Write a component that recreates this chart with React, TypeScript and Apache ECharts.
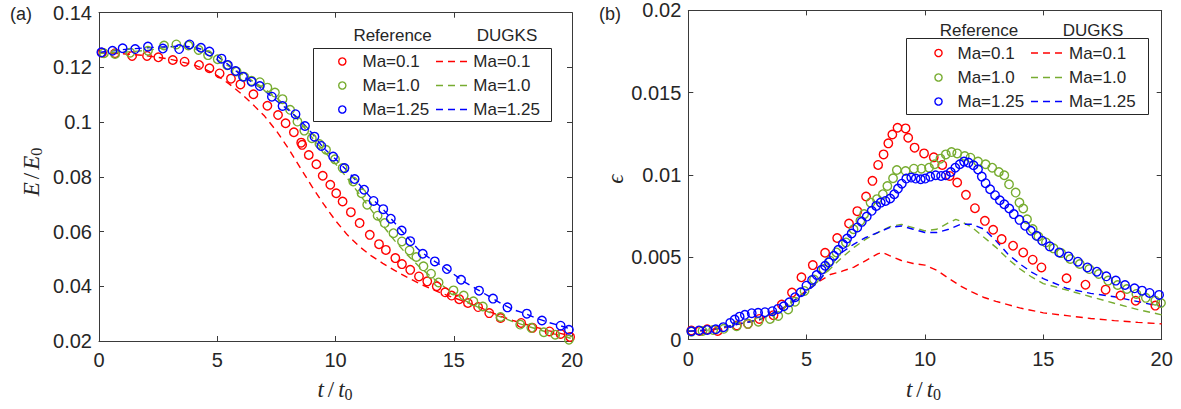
import React, { useEffect, useRef } from "react";
import * as echarts from "echarts";

// ---------- (a) kinetic energy E/E0 ----------
const aRefMa01T = [0.13, 0.68, 1.40, 2.03, 2.51, 3.12, 3.62, 4.23, 4.67, 5.10, 5.58, 5.98, 6.53, 7.12, 7.57, 7.89, 8.24, 8.55, 8.59, 8.87, 9.19, 9.46, 9.78, 10.03, 10.30, 10.65, 11.02, 11.45, 11.84, 12.13, 12.53, 12.81, 13.16, 13.53, 13.88, 14.28, 14.64, 14.91, 15.23, 15.60, 16.03, 16.50, 16.98, 17.85, 18.33, 19.05, 19.52, 19.92];
const aRefMa01E = [0.1254, 0.1252, 0.1242, 0.1242, 0.1237, 0.1227, 0.1221, 0.1209, 0.1197, 0.1178, 0.1159, 0.1138, 0.1102, 0.1060, 0.1026, 0.0996, 0.0963, 0.0925, 0.0917, 0.0880, 0.0846, 0.0804, 0.0771, 0.0740, 0.0710, 0.0671, 0.0631, 0.0588, 0.0554, 0.0533, 0.0503, 0.0481, 0.0460, 0.0436, 0.0418, 0.0400, 0.0378, 0.0366, 0.0353, 0.0339, 0.0324, 0.0302, 0.0284, 0.0266, 0.0248, 0.0235, 0.0226, 0.0215];

const aRefMa10T = [0.21, 0.68, 1.32, 2.07, 2.75, 3.27, 3.78, 4.21, 4.61, 5.02, 5.42, 5.82, 6.14, 6.45, 6.80, 7.12, 7.44, 7.76, 8.08, 8.39, 8.68, 9.00, 9.32, 9.60, 9.98, 10.30, 10.75, 11.10, 11.34, 11.78, 12.08, 12.45, 12.81, 13.13, 13.42, 13.72, 14.04, 14.36, 14.99, 15.42, 15.83, 16.23, 16.98, 17.81, 18.28, 18.81, 19.29, 19.87];
const aRefMa10E = [0.1252, 0.1249, 0.1254, 0.1261, 0.1280, 0.1284, 0.1280, 0.1264, 0.1245, 0.1230, 0.1208, 0.1185, 0.1166, 0.1151, 0.1146, 0.1126, 0.1108, 0.1084, 0.1045, 0.1002, 0.0969, 0.0941, 0.0920, 0.0899, 0.0864, 0.0832, 0.0783, 0.0740, 0.0698, 0.0658, 0.0631, 0.0594, 0.0564, 0.0531, 0.0507, 0.0473, 0.0446, 0.0414, 0.0385, 0.0366, 0.0345, 0.0326, 0.0288, 0.0260, 0.0248, 0.0232, 0.0223, 0.0205];

const aRefMa125T = [0.10, 0.57, 1.00, 1.53, 2.07, 2.70, 3.39, 3.83, 4.31, 4.67, 5.18, 5.45, 5.77, 6.09, 6.45, 6.80, 7.31, 7.76, 8.31, 8.71, 9.11, 9.40, 9.90, 10.38, 10.81, 11.21, 11.61, 12.02, 12.34, 12.80, 13.16, 13.69, 14.20, 14.71, 15.31, 16.07, 16.66, 17.27, 18.09, 18.73, 19.52, 19.87];
const aRefMa125E = [0.1255, 0.1261, 0.1270, 0.1267, 0.1276, 0.1269, 0.1267, 0.1284, 0.1272, 0.1258, 0.1232, 0.1209, 0.1187, 0.1166, 0.1148, 0.1132, 0.1093, 0.1059, 0.1029, 0.0986, 0.0947, 0.0913, 0.0874, 0.0832, 0.0792, 0.0753, 0.0712, 0.0682, 0.0647, 0.0604, 0.0565, 0.0519, 0.0491, 0.0463, 0.0424, 0.0384, 0.0355, 0.0323, 0.0300, 0.0275, 0.0256, 0.0241];

const aDugksMa01T = [0, 1, 2, 3, 4, 4.5, 5, 5.5, 6, 6.5, 7, 7.5, 8, 8.5, 9, 9.5, 10, 10.5, 11, 11.5, 12, 12.5, 13, 13.5, 14, 14.5, 15, 15.5, 16, 16.5, 17, 17.5, 18, 18.5, 19, 19.5, 20];
const aDugksMa01E = [0.1254, 0.1250, 0.1243, 0.1230, 0.1210, 0.1193, 0.1170, 0.1140, 0.1105, 0.1065, 0.1022, 0.0968, 0.0905, 0.0835, 0.0765, 0.0700, 0.0640, 0.0588, 0.0546, 0.0512, 0.0484, 0.0458, 0.0434, 0.0412, 0.0392, 0.0374, 0.0358, 0.0343, 0.0327, 0.0308, 0.0290, 0.0275, 0.0262, 0.0250, 0.0238, 0.0228, 0.0217];

const aDugksMa10T = [0, 1, 2, 3, 3.5, 4, 4.5, 5, 5.5, 6, 6.5, 7, 7.5, 8, 8.5, 9, 9.5, 10, 10.5, 11, 11.5, 12, 12.5, 13, 13.5, 14, 14.5, 15, 15.5, 16, 16.5, 17, 17.5, 18, 18.5, 19, 19.5, 20];
const aDugksMa10E = [0.1252, 0.1255, 0.1262, 0.1275, 0.1278, 0.1270, 0.1250, 0.1228, 0.1204, 0.1178, 0.1150, 0.1122, 0.1090, 0.1050, 0.1000, 0.0945, 0.0895, 0.0848, 0.0795, 0.0738, 0.0680, 0.0622, 0.0567, 0.0518, 0.0475, 0.0438, 0.0404, 0.0373, 0.0347, 0.0325, 0.0305, 0.0287, 0.0271, 0.0257, 0.0244, 0.0231, 0.0220, 0.0209];

const aDugksMa125T = [0, 1, 2, 3, 3.5, 4, 4.5, 5, 5.5, 6, 6.5, 7, 7.5, 8, 8.5, 9, 9.5, 10, 10.5, 11, 11.5, 12, 12.5, 13, 13.5, 14, 14.5, 15, 15.5, 16, 16.5, 17, 17.5, 18, 18.5, 19, 19.5, 20];
const aDugksMa125E = [0.1255, 0.1265, 0.1272, 0.1276, 0.1278, 0.1275, 0.1262, 0.1242, 0.1208, 0.1172, 0.1145, 0.1115, 0.1078, 0.1045, 0.1008, 0.0960, 0.0905, 0.0865, 0.0822, 0.0773, 0.0723, 0.0683, 0.0632, 0.0583, 0.0535, 0.0501, 0.0475, 0.0444, 0.0413, 0.0388, 0.0363, 0.0337, 0.0315, 0.0301, 0.0283, 0.0268, 0.0256, 0.0242];

// ---------- (b) error ϵ ----------
const bRefMa01T = [0.13, 0.49, 0.80, 1.24, 2.05, 2.52, 3.00, 3.60, 3.95, 4.38, 4.78, 5.26, 5.78, 6.29, 6.79, 7.14, 7.51, 7.78, 8.02, 8.25, 8.45, 8.62, 8.84, 9.18, 9.29, 9.56, 9.96, 10.37, 10.73, 11.04, 11.36, 11.73, 12.11, 12.53, 12.88, 13.24, 13.72, 14.15, 14.55, 14.92, 15.98, 16.78, 17.63, 18.26, 18.90, 19.73];
const bRefMa01V = [0.00055, 0.00052, 0.00062, 0.00052, 0.00085, 0.00095, 0.00125, 0.00148, 0.00212, 0.00285, 0.00378, 0.00452, 0.00527, 0.00617, 0.00705, 0.00780, 0.00869, 0.00964, 0.01061, 0.01125, 0.01192, 0.01246, 0.01287, 0.01283, 0.01226, 0.01166, 0.01131, 0.01107, 0.01061, 0.00994, 0.00954, 0.00879, 0.00798, 0.00721, 0.00667, 0.00610, 0.00570, 0.00529, 0.00485, 0.00438, 0.00372, 0.00333, 0.00303, 0.00267, 0.00236, 0.00206];

const bRefMa10T = [0.13, 0.60, 1.05, 1.50, 2.04, 2.52, 2.96, 3.45, 3.80, 4.22, 4.51, 4.91, 5.31, 5.71, 5.99, 6.26, 6.66, 6.98, 7.27, 7.43, 7.70, 7.97, 8.22, 8.41, 8.65, 8.81, 9.18, 9.53, 9.85, 10.17, 10.41, 10.65, 10.88, 11.12, 11.36, 11.68, 11.92, 12.24, 12.56, 12.84, 13.12, 13.35, 13.55, 13.83, 13.99, 14.15, 14.31, 14.55, 14.79, 15.11, 15.43, 15.75, 16.14, 16.54, 16.94, 17.34, 17.74, 18.14, 18.53, 18.93, 19.33, 19.73, 19.97];
const bRefMa10V = [0.00048, 0.00052, 0.00058, 0.00065, 0.00080, 0.00095, 0.00108, 0.00125, 0.00143, 0.00183, 0.00230, 0.00295, 0.00365, 0.00428, 0.00479, 0.00529, 0.00590, 0.00670, 0.00721, 0.00762, 0.00832, 0.00853, 0.00883, 0.00933, 0.00980, 0.01030, 0.01024, 0.01038, 0.01038, 0.01044, 0.01065, 0.01099, 0.01125, 0.01139, 0.01131, 0.01115, 0.01105, 0.01081, 0.01065, 0.01044, 0.01018, 0.00998, 0.00943, 0.00893, 0.00832, 0.00796, 0.00731, 0.00671, 0.00626, 0.00590, 0.00554, 0.00525, 0.00489, 0.00459, 0.00428, 0.00398, 0.00358, 0.00331, 0.00307, 0.00277, 0.00253, 0.00236, 0.00222];

const bRefMa125T = [0.13, 0.45, 0.80, 1.16, 1.48, 1.77, 1.96, 2.17, 2.39, 2.68, 2.95, 3.24, 3.55, 3.79, 4.03, 4.27, 4.51, 4.75, 4.99, 5.23, 5.42, 5.63, 5.78, 5.94, 6.15, 6.34, 6.53, 6.71, 6.90, 7.14, 7.33, 7.54, 7.75, 7.94, 8.13, 8.33, 8.53, 8.70, 8.86, 9.02, 9.21, 9.42, 9.61, 9.82, 10.01, 10.22, 10.45, 10.68, 10.88, 11.09, 11.28, 11.47, 11.65, 11.84, 12.05, 12.24, 12.40, 12.56, 12.75, 12.96, 13.16, 13.35, 13.56, 13.75, 13.99, 14.23, 14.47, 14.71, 14.95, 15.27, 15.67, 16.06, 16.46, 16.86, 17.26, 17.66, 18.06, 18.45, 18.85, 19.17, 19.49, 19.89];
const bRefMa125V = [0.00050, 0.00055, 0.00058, 0.00062, 0.00075, 0.00101, 0.00121, 0.00139, 0.00150, 0.00160, 0.00162, 0.00166, 0.00172, 0.00186, 0.00202, 0.00226, 0.00257, 0.00287, 0.00327, 0.00362, 0.00392, 0.00424, 0.00448, 0.00469, 0.00509, 0.00545, 0.00580, 0.00614, 0.00644, 0.00681, 0.00715, 0.00747, 0.00782, 0.00812, 0.00832, 0.00842, 0.00857, 0.00883, 0.00917, 0.00947, 0.00978, 0.00984, 0.00978, 0.00974, 0.00978, 0.00990, 0.00998, 0.00994, 0.00998, 0.01018, 0.01044, 0.01065, 0.01081, 0.01075, 0.01059, 0.01034, 0.00990, 0.00950, 0.00913, 0.00877, 0.00846, 0.00822, 0.00796, 0.00762, 0.00727, 0.00691, 0.00661, 0.00630, 0.00600, 0.00566, 0.00529, 0.00505, 0.00473, 0.00438, 0.00412, 0.00384, 0.00358, 0.00331, 0.00311, 0.00297, 0.00283, 0.00271];

const bDugksMa01T = [0, 0.5, 1, 1.5, 2, 2.5, 3, 3.5, 4, 4.5, 5, 5.5, 6, 6.5, 7, 7.5, 8, 8.2, 8.5, 9, 9.5, 10, 10.5, 11, 11.5, 12, 12.5, 13, 13.5, 14, 15, 16, 17, 18, 19, 20];
const bDugksMa01V = [0.00050, 0.00052, 0.00058, 0.00070, 0.00090, 0.00105, 0.00120, 0.00150, 0.00190, 0.00240, 0.00300, 0.00350, 0.00395, 0.00415, 0.00440, 0.00480, 0.00520, 0.00530, 0.00510, 0.00480, 0.00462, 0.00452, 0.00420, 0.00372, 0.00325, 0.00288, 0.00255, 0.00232, 0.00212, 0.00192, 0.00162, 0.00145, 0.00128, 0.00115, 0.00104, 0.00095];

const bDugksMa10T = [0, 1, 2, 3, 4, 5, 5.5, 6, 6.5, 7, 7.5, 8, 8.5, 9, 9.5, 10, 10.5, 11, 11.3, 11.5, 12, 12.5, 13, 13.5, 14, 14.5, 15, 16, 17, 18, 19, 20];
const bDugksMa10V = [0.00050, 0.00060, 0.00090, 0.00120, 0.00190, 0.00290, 0.00360, 0.00430, 0.00500, 0.00560, 0.00610, 0.00650, 0.00685, 0.00700, 0.00680, 0.00660, 0.00670, 0.00710, 0.00730, 0.00720, 0.00680, 0.00620, 0.00560, 0.00490, 0.00430, 0.00380, 0.00340, 0.00300, 0.00260, 0.00220, 0.00182, 0.00150];

const bDugksMa125T = [0, 1, 2, 3, 4, 5, 5.5, 6, 6.5, 7, 7.5, 8, 8.5, 9, 9.5, 10, 10.5, 11, 11.5, 12, 12.5, 13, 13.5, 14, 14.5, 15, 16, 17, 18, 19, 20];
const bDugksMa125V = [0.00050, 0.00060, 0.00090, 0.00120, 0.00190, 0.00290, 0.00350, 0.00450, 0.00530, 0.00580, 0.00620, 0.00650, 0.00680, 0.00690, 0.00670, 0.00650, 0.00650, 0.00670, 0.00700, 0.00700, 0.00670, 0.00600, 0.00520, 0.00460, 0.00410, 0.00370, 0.00310, 0.00280, 0.00260, 0.00230, 0.00200];

// legend entries and panel tags
const machLabels = ["Ma=0.1", "Ma=1.0", "Ma=1.25"];
const legendTitles = ["Reference", "DUGKS"];
const panelLabels = ["(a)", "(b)"];

const RED = "#ff0000";
const GREEN = "#77ac30";
const BLUE = "#0000ff";
const COLORS = [RED, GREEN, BLUE];
const AXIS = "#3a3a3a";
const TEXT = "#262626";
const SANS = '"Liberation Sans", Arial, Helvetica, sans-serif';
const SERIF = '"Liberation Serif", "DejaVu Serif", serif';
const LEGEND_FONT = `17px ${SANS}`;

const pts = (t: number[], v: number[]) => t.map((x, i) => [x, v[i]]);
const fmt = (v: number) => String(parseFloat(v.toFixed(4)));

let measureCtx: CanvasRenderingContext2D | null = null;
function textWidth(text: string, font: string) {
  if (!measureCtx) measureCtx = document.createElement("canvas").getContext("2d");
  measureCtx!.font = font;
  return measureCtx!.measureText(text).width;
}

type Part = { text: string; italic?: boolean; sub?: boolean; pad?: number };
function mathLabel(cx: number, cy: number, rotated: boolean, parts: Part[], size = 23) {
  const fontOf = (p: Part) =>
    p.sub ? `${Math.round(size * 0.68)}px ${SERIF}` : `${p.italic ? "italic " : ""}${size}px ${SERIF}`;
  const widths = parts.map((p) => textWidth(p.text, fontOf(p)) + 2 * (p.pad || 0));
  const total = widths.reduce((a, b) => a + b, 0);
  let x = -total / 2;
  const children: any[] = [];
  parts.forEach((p, i) => {
    children.push({
      type: "text",
      x: x + (p.pad || 0),
      y: p.sub ? 5 : 0,
      style: {
        text: p.text,
        font: fontOf(p),
        fill: TEXT,
        textAlign: "left",
        textVerticalAlign: "middle",
        align: "left",
        verticalAlign: "middle",
      },
    });
    x += widths[i];
  });
  return { type: "group", x: cx, y: cy, rotation: rotated ? Math.PI / 2 : 0, children };
}

function legend(box: { x: number; y: number; w: number; h: number }, titleY: number, titleX: number[], rowY: number[], circleX: number, textX: number, dashX0: number, dashX1: number, text2X: number) {
  const els: any[] = [
    {
      type: "rect",
      shape: { x: box.x, y: box.y, width: box.w, height: box.h },
      style: { fill: "#ffffff", stroke: TEXT, lineWidth: 1 },
      z: 10,
    },
  ];
  legendTitles.forEach((t, i) => {
    els.push({
      type: "text",
      x: titleX[i],
      y: titleY,
      z: 11,
      style: { text: t, font: LEGEND_FONT, fill: TEXT, textAlign: "center", textVerticalAlign: "middle", align: "center", verticalAlign: "middle" },
    });
  });
  machLabels.forEach((lab, i) => {
    const y = rowY[i];
    els.push({
      type: "circle",
      z: 11,
      shape: { cx: circleX, cy: y, r: 3.6 },
      style: { fill: "none", stroke: COLORS[i], lineWidth: 1.4 },
    });
    els.push({
      type: "text",
      x: textX,
      y,
      z: 11,
      style: { text: lab, font: LEGEND_FONT, fill: TEXT, textAlign: "left", textVerticalAlign: "middle", align: "left", verticalAlign: "middle" },
    });
    els.push({
      type: "line",
      z: 11,
      shape: { x1: dashX0, y1: y, x2: dashX1, y2: y },
      style: { stroke: COLORS[i], lineWidth: 1.4, lineDash: [7, 5] },
    });
    els.push({
      type: "text",
      x: text2X,
      y,
      z: 11,
      style: { text: lab, font: LEGEND_FONT, fill: TEXT, textAlign: "left", textVerticalAlign: "middle", align: "left", verticalAlign: "middle" },
    });
  });
  return els;
}

function axisPair(kind: "x" | "y", grid: number, min: number, max: number, interval: number) {
  const base = {
    type: "value",
    gridIndex: grid,
    min,
    max,
    interval,
    splitLine: { show: false },
    axisLine: { show: true, onZero: false, lineStyle: { color: AXIS, width: 1 } },
    axisTick: { show: true, inside: true, length: 5, lineStyle: { color: AXIS, width: 1 } },
  };
  const main = {
    ...base,
    position: kind === "x" ? "bottom" : "left",
    axisLabel: {
      show: true,
      color: TEXT,
      fontSize: 20,
      fontFamily: SANS,
      margin: kind === "x" ? 9 : 7,
      formatter: (v: number) => fmt(v),
    },
  };
  const mirror = {
    ...base,
    position: kind === "x" ? "top" : "right",
    axisLabel: { show: false },
  };
  return [main, mirror];
}

function scatter(data: number[][], color: string, xi: number, yi: number) {
  return {
    type: "scatter",
    xAxisIndex: xi,
    yAxisIndex: yi,
    data,
    symbol: "circle",
    symbolSize: 8.5,
    silent: true,
    z: 3,
    itemStyle: { color: "rgba(0,0,0,0)", borderColor: color, borderWidth: 1.4, opacity: 1 },
  };
}

function dashed(data: number[][], color: string, xi: number, yi: number) {
  return {
    type: "line",
    xAxisIndex: xi,
    yAxisIndex: yi,
    data,
    showSymbol: false,
    symbol: "none",
    silent: true,
    z: 2,
    lineStyle: { color, width: 1.4, type: [7, 5] },
  };
}

export default function App() {
  const ref = useRef<HTMLDivElement>(null);

  useEffect(() => {
    if (!ref.current) return;
    const chart = echarts.init(ref.current, undefined, { renderer: "svg" });

    const [xa, xaTop] = axisPair("x", 0, 0, 20, 5);
    const [xb, xbTop] = axisPair("x", 1, 0, 20, 5);
    const [ya, yaRight] = axisPair("y", 0, 0.02, 0.14, 0.02);
    const [yb, ybRight] = axisPair("y", 1, 0, 0.02, 0.005);

    const option: any = {
      animation: false,
      backgroundColor: "#ffffff",
      grid: [
        { left: 99, top: 12.7, width: 473, height: 328.3 },
        { left: 688.3, top: 10.4, width: 473.4, height: 329.1 },
      ],
      xAxis: [xa, xaTop, xb, xbTop],
      yAxis: [ya, yaRight, yb, ybRight],
      series: [
        dashed(pts(aDugksMa01T, aDugksMa01E), RED, 0, 0),
        dashed(pts(aDugksMa10T, aDugksMa10E), GREEN, 0, 0),
        dashed(pts(aDugksMa125T, aDugksMa125E), BLUE, 0, 0),
        scatter(pts(aRefMa01T, aRefMa01E), RED, 0, 0),
        scatter(pts(aRefMa10T, aRefMa10E), GREEN, 0, 0),
        scatter(pts(aRefMa125T, aRefMa125E), BLUE, 0, 0),
        dashed(pts(bDugksMa01T, bDugksMa01V), RED, 2, 2),
        dashed(pts(bDugksMa10T, bDugksMa10V), GREEN, 2, 2),
        dashed(pts(bDugksMa125T, bDugksMa125V), BLUE, 2, 2),
        scatter(pts(bRefMa01T, bRefMa01V), RED, 2, 2),
        scatter(pts(bRefMa10T, bRefMa10V), GREEN, 2, 2),
        scatter(pts(bRefMa125T, bRefMa125V), BLUE, 2, 2),
      ],
      graphic: [
        {
          type: "text",
          x: 21,
          y: 13.5,
          style: { text: panelLabels[0], font: `18px ${SANS}`, fill: TEXT, textAlign: "center", textVerticalAlign: "middle", align: "center", verticalAlign: "middle" },
        },
        {
          type: "text",
          x: 610,
          y: 13.5,
          style: { text: panelLabels[1], font: `18px ${SANS}`, fill: TEXT, textAlign: "center", textVerticalAlign: "middle", align: "center", verticalAlign: "middle" },
        },
        mathLabel(31, 172, true, [
          { text: "E", italic: true },
          { text: "/", pad: 3 },
          { text: "E", italic: true },
          { text: "0", sub: true },
        ]),
        mathLabel(335, 389, false, [
          { text: "t", italic: true },
          { text: "/", pad: 4 },
          { text: "t", italic: true },
          { text: "0", sub: true },
        ]),
        mathLabel(923.5, 389, false, [
          { text: "t", italic: true },
          { text: "/", pad: 4 },
          { text: "t", italic: true },
          { text: "0", sub: true },
        ]),
        mathLabel(615, 179, true, [{ text: "ϵ", italic: true }]),
        ...legend({ x: 313.5, y: 48.5, w: 238, h: 73 }, 35, [392.6, 507], [61.5, 85.5, 109.5], 342.3, 362.5, 436, 472, 473.3),
        ...legend({ x: 906.5, y: 38.5, w: 242, h: 76 }, 30.5, [979, 1093], [53, 77.5, 101.5], 938.5, 957.5, 1031, 1067, 1069),
      ],
    };

    chart.setOption(option);
    return () => chart.dispose();
  }, []);

  return (
    <div
      ref={ref}
      style={{ position: "absolute", left: 0, top: 0, width: 1181, height: 409, background: "#fff" }}
    />
  );
}
